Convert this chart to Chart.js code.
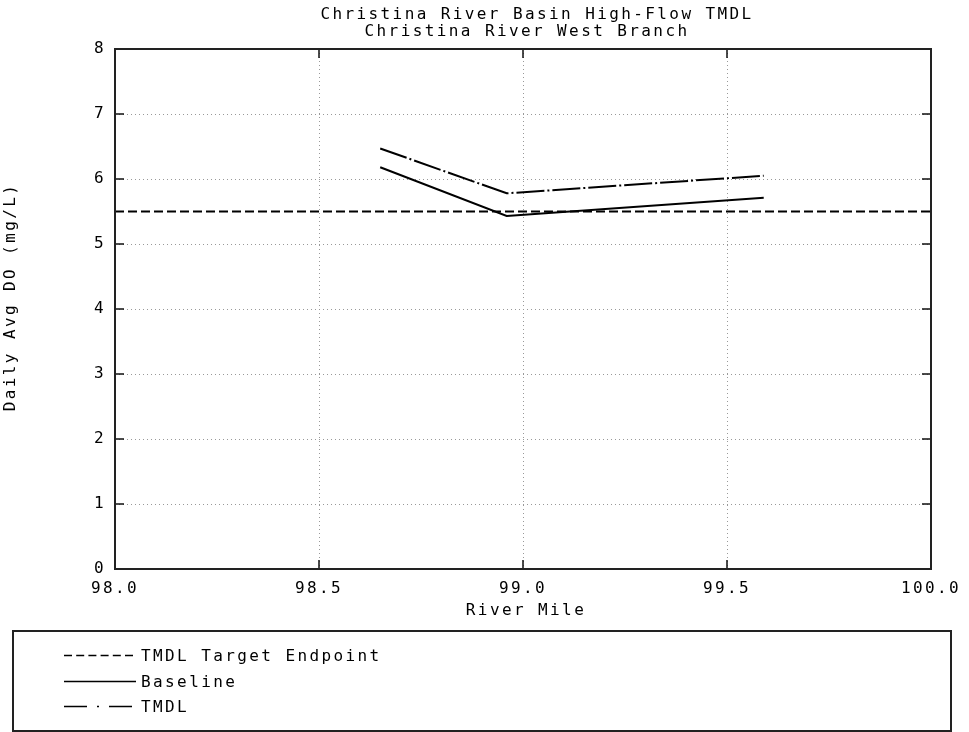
<!DOCTYPE html>
<html>
<head>
<meta charset="utf-8">
<script src="https://cdn.jsdelivr.net/npm/chart.js@4.4.1/dist/chart.umd.min.js"></script>
<style>
  body { margin: 0; background: #fff; width: 969px; height: 732px; overflow: hidden; position: relative;
         font-family: "DejaVu Sans Mono", monospace; }
  #chart { position: absolute; left: 0; top: 0; }
  #legend { position: absolute; left: 12px; top: 630px; width: 940px; height: 102px; box-sizing: border-box;
            border: 2px solid #222; }
  .row { position: absolute; left: 48px; height: 20px; display: flex; align-items: center; }
  .row svg { width: 80px; height: 20px; flex: none; }
  .row span { font-size: 16px; letter-spacing: 2.4px; color: #000; margin-left: -1px; }
</style>
</head>
<body>
<canvas id="chart" width="969" height="732"></canvas>
<div id="legend"></div>
<script>
// River mile positions and daily average DO values
const riverMile = [98.65, 98.96, 99.59];
const baselineDO = [6.18, 5.43, 5.71];
const tmdlDO = [6.47, 5.78, 6.05];
const targetMile = [98.0, 100.0];
const targetDO = [5.5, 5.5];

const xTicks = [98.0, 98.5, 99.0, 99.5, 100.0];
const yTicks = [0, 1, 2, 3, 4, 5, 6, 7, 8];

const titleLines = ['Christina River Basin High-Flow TMDL', 'Christina River West Branch'];
const legendNames = ['TMDL Target Endpoint', 'Baseline', 'TMDL'];

const FONT = '"DejaVu Sans Mono", monospace';
const SPACING = '2.4px';

function toPoints(xs, ys) {
  return xs.map((x, i) => ({ x: x, y: ys[i] }));
}

// Frame, inward tick marks and all free text
const framePlugin = {
  id: 'frame',
  beforeDraw(chart) {
    chart.ctx.letterSpacing = SPACING;
  },
  afterDraw(chart) {
    const ctx = chart.ctx;
    const a = chart.chartArea;
    const xs = chart.scales.x, ys = chart.scales.y;
    ctx.save();
    ctx.strokeStyle = '#111';
    ctx.lineWidth = 1.5;
    ctx.beginPath();
    yTicks.forEach(v => {
      const py = ys.getPixelForValue(v);
      ctx.moveTo(a.left, py); ctx.lineTo(a.left + 9, py);
      ctx.moveTo(a.right, py); ctx.lineTo(a.right - 9, py);
    });
    xTicks.forEach(v => {
      const px = xs.getPixelForValue(v);
      ctx.moveTo(px, a.bottom); ctx.lineTo(px, a.bottom - 9);
      ctx.moveTo(px, a.top); ctx.lineTo(px, a.top + 9);
    });
    ctx.stroke();
    ctx.strokeStyle = '#222';
    ctx.lineWidth = 2;
    ctx.strokeRect(a.left, a.top, a.right - a.left, a.bottom - a.top);

    ctx.fillStyle = '#000';
    ctx.font = '16px ' + FONT;
    ctx.letterSpacing = SPACING;
    ctx.textAlign = 'center';
    ctx.textBaseline = 'middle';
    ctx.fillText(titleLines[0], 537, 15);
    ctx.fillText(titleLines[1], 527, 32);
    ctx.fillText('River Mile', 526, 611);
    ctx.translate(11, 297);
    ctx.rotate(-Math.PI / 2);
    ctx.fillText('Daily Avg DO (mg/L)', 0, 0);
    ctx.restore();
  }
};

new Chart(document.getElementById('chart'), {
  type: 'line',
  data: {
    datasets: [
      {
        label: legendNames[0],
        data: toPoints(targetMile, targetDO),
        borderColor: '#000',
        borderWidth: 2,
        borderDash: [9, 4],
        pointRadius: 0
      },
      {
        label: legendNames[1],
        data: toPoints(riverMile, baselineDO),
        borderColor: '#000',
        borderWidth: 2,
        pointRadius: 0
      },
      {
        label: legendNames[2],
        data: toPoints(riverMile, tmdlDO),
        borderColor: '#000',
        borderWidth: 2,
        borderDash: [28, 3, 2, 3],
        pointRadius: 0
      }
    ]
  },
  options: {
    responsive: false,
    animation: false,
    devicePixelRatio: 1,
    layout: { padding: { left: 0, top: 49, right: 38, bottom: 133 } },
    plugins: { legend: { display: false }, tooltip: { enabled: false }, title: { display: false } },
    scales: {
      x: {
        type: 'linear',
        min: 98,
        max: 100,
        afterFit: s => { s.height = 30; },
        afterBuildTicks: s => { s.ticks = xTicks.map(v => ({ value: v })); },
        ticks: {
          autoSkip: false,
          maxRotation: 0,
          padding: 10,
          color: '#000',
          font: { family: FONT, size: 16 },
          callback: v => Number(v).toFixed(1)
        },
        grid: { color: '#999', lineWidth: 1, drawTicks: false },
        border: { display: false, dash: [1, 3] }
      },
      y: {
        type: 'linear',
        min: 0,
        max: 8,
        afterFit: s => { s.width = 115; },
        afterBuildTicks: s => { s.ticks = yTicks.map(v => ({ value: v })); },
        ticks: {
          padding: 9,
          color: '#000',
          font: { family: FONT, size: 16 },
          callback: v => String(v)
        },
        grid: { color: '#999', lineWidth: 1, drawTicks: false },
        border: { display: false, dash: [1, 3] }
      }
    }
  },
  plugins: [framePlugin]
});

// Legend below the plot
const legendDash = ['8,4.2', '', '23,10,2,10'];
const legendRowsY = [13, 39, 64];
const legendEl = document.getElementById('legend');
legendNames.forEach((name, i) => {
  const row = document.createElement('div');
  row.className = 'row';
  row.style.top = legendRowsY[i] + 'px';
  const dash = legendDash[i] ? ` stroke-dasharray="${legendDash[i]}"` : '';
  row.innerHTML = `<svg viewBox="0 0 80 20"><line x1="2" y1="10.5" x2="74" y2="10.5" stroke="#000" stroke-width="1.6"${dash}/></svg><span>${name}</span>`;
  legendEl.appendChild(row);
});
</script>
</body>
</html>
